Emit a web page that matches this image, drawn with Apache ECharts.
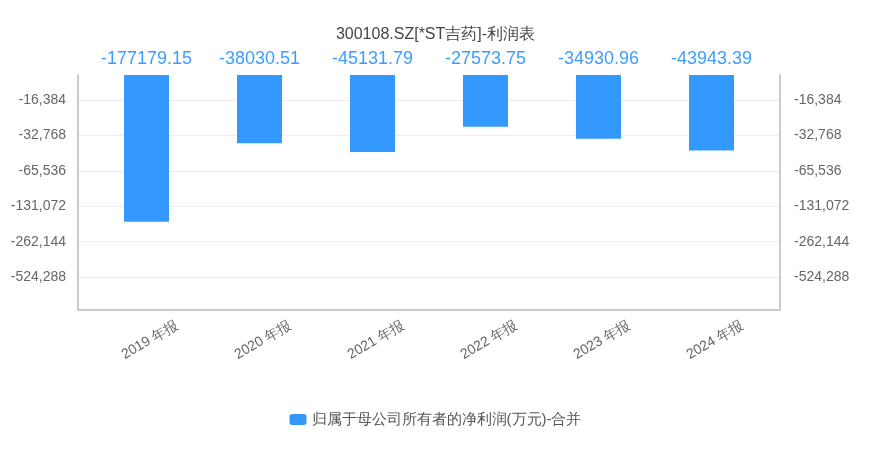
<!DOCTYPE html>
<html>
<head>
<meta charset="utf-8">
<script src="https://cdn.jsdelivr.net/npm/echarts@6/dist/echarts.min.js"></script>
<style>
  html, body { margin: 0; padding: 0; background: #fff; }
  #chart { width: 871px; height: 449px; }
</style>
</head>
<body>
<div id="chart"></div>
<script>
const years = ['2019 年报', '2020 年报', '2021 年报', '2022 年报', '2023 年报', '2024 年报']
const netProfit = [-177179.15, -38030.51, -45131.79, -27573.75, -34930.96, -43943.39]
const seriesName = '归属于母公司所有者的净利润(万元)-合并'

const chart = echarts.init(document.getElementById('chart'))

const fmtTick = function(v) {
  return '-' + Math.round(v).toLocaleString('en-US')
}

// log axis only takes positives, so plot |value| on an inverted axis
const logAxis = {
  type: 'log',
  logBase: 2,
  inverse: true,
  min: 10000,
  max: 1000000
}

const frameAxis = function(pos, margin) {
  return Object.assign({}, logAxis, {
    gridIndex: 1,
    position: pos,
    axisLine: { show: true, lineStyle: { color: '#ccc', width: 2 } },
    axisTick: { show: false },
    axisLabel: {
      color: '#666',
      fontSize: 14,
      margin: margin,
      showMinLabel: false,
      showMaxLabel: false,
      formatter: fmtTick
    },
    splitLine: {
      show: pos === 'left',
      showMinLine: false,
      showMaxLine: false,
      lineStyle: { color: '#eee' }
    }
  })
}

chart.setOption({
  title: {
    text: '300108.SZ[*ST吉药]-利润表',
    left: 'center',
    top: 22,
    textStyle: { fontSize: 16, fontWeight: 'normal', color: '#464646' }
  },
  grid: [
    // bars
    { left: 90, right: 103, top: 75, bottom: 139 },
    // frame: axis lines, split lines, tick labels
    { left: 78, right: 91, top: 75, bottom: 139 }
  ],
  legend: {
    bottom: 17,
    icon: 'roundRect',
    itemWidth: 17,
    itemHeight: 11,
    textStyle: { fontSize: 15, color: '#555' },
    data: [seriesName]
  },
  xAxis: [{
    gridIndex: 0,
    type: 'category',
    data: years,
    axisLine: { show: false },
    axisTick: { show: false },
    axisLabel: { rotate: 30, color: '#666', fontSize: 14, margin: 24, align: 'center', verticalAlign: 'top' }
  }, {
    gridIndex: 1,
    type: 'value',
    axisLine: { show: true, lineStyle: { color: '#ccc', width: 2 } },
    axisTick: { show: false },
    axisLabel: { show: false },
    splitLine: { show: false }
  }],
  yAxis: [
    Object.assign({}, logAxis, { gridIndex: 0, show: false }),
    frameAxis('left', 12),
    frameAxis('right', 14)
  ],
  series: [{
    name: seriesName,
    type: 'bar',
    xAxisIndex: 0,
    yAxisIndex: 0,
    barWidth: 45,
    itemStyle: { color: '#3399ff' },
    label: {
      show: true,
      position: 'top',
      distance: 7,
      fontSize: 18,
      color: '#3d9dff',
      formatter: function(p) {
        return netProfit[p.dataIndex]
      }
    },
    data: netProfit.map(v => Math.abs(v))
  }]
})
</script>
</body>
</html>
